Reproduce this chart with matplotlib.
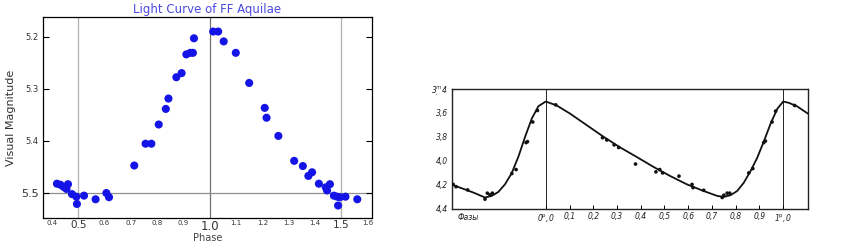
#!/usr/bin/env python3
"""
FF Aquilae light curves - two panels side by side
"""
import matplotlib
matplotlib.use("Agg")
import matplotlib.pyplot as plt

# left panel: phase / visual magnitude observations
ff_phase = [0.419, 0.432, 0.444, 0.455, 0.461, 0.476, 0.493, 0.495, 0.522, 0.566,
            0.607, 0.617, 0.713, 0.756, 0.778, 0.806, 0.833, 0.843, 0.873, 0.893,
            0.911, 0.926, 0.936, 0.940, 1.013, 1.032, 1.053, 1.099, 1.150, 1.209,
            1.216, 1.261, 1.321, 1.354, 1.375, 1.389, 1.415, 1.441, 1.446, 1.457,
            1.472, 1.484, 1.488, 1.495, 1.516, 1.561]
ff_mag = [5.483, 5.485, 5.489, 5.493, 5.484, 5.503, 5.508, 5.522, 5.506, 5.513,
          5.501, 5.509, 5.448, 5.406, 5.406, 5.369, 5.339, 5.319, 5.278, 5.270,
          5.234, 5.231, 5.231, 5.203, 5.190, 5.190, 5.209, 5.231, 5.289, 5.337,
          5.356, 5.391, 5.439, 5.449, 5.468, 5.461, 5.483, 5.490, 5.496, 5.484,
          5.506, 5.508, 5.525, 5.509, 5.508, 5.513]
ff_xticks = [0.4, 0.5, 0.6, 0.7, 0.8, 0.9, 1.0, 1.1, 1.2, 1.3, 1.4, 1.5, 1.6]
ff_yticks = [5.2, 5.3, 5.4, 5.5]

# right panel: scanned curve (drawn line) and its observed points
curve_phase = [-0.40, -0.361, -0.305, -0.256, -0.228, -0.200, -0.172, -0.143, -0.115,
               -0.087, -0.059, -0.031, 0.0, 0.046, 0.103, 0.173, 0.243, 0.314, 0.384,
               0.454, 0.525, 0.595, 0.665, 0.722, 0.750, 0.778, 0.806, 0.834, 0.862,
               0.890, 0.918, 0.947, 0.975, 1.0, 1.024, 1.059, 1.105]
curve_mag = [4.195, 4.224, 4.265, 4.306, 4.293, 4.260, 4.197, 4.101, 3.964,
             3.799, 3.648, 3.544, 3.505, 3.538, 3.607, 3.703, 3.799, 3.889, 3.969,
             4.051, 4.128, 4.197, 4.252, 4.293, 4.301, 4.287, 4.252, 4.183, 4.087,
             3.977, 3.840, 3.689, 3.566, 3.505, 3.516, 3.546, 3.607]
obs_phase = [-0.390, -0.378, -0.329, -0.256, -0.246, -0.235, -0.225, -0.143, -0.125,
             -0.083, -0.077, -0.055, -0.035, 0.042, 0.239, 0.257, 0.288, 0.307, 0.378,
             0.464, 0.480, 0.492, 0.561, 0.616, 0.620, 0.665, 0.743, 0.750, 0.764,
             0.775, 0.855, 0.872, 0.918, 0.925, 0.953, 0.968, 1.048]
obs_mag = [4.197, 4.216, 4.243, 4.320, 4.270, 4.284, 4.270, 4.106, 4.073,
           3.848, 3.840, 3.676, 3.580, 3.533, 3.807, 3.826, 3.867, 3.889, 4.027,
           4.092, 4.073, 4.101, 4.128, 4.197, 4.224, 4.246, 4.306, 4.287, 4.270,
           4.270, 4.101, 4.065, 3.848, 3.835, 3.676, 3.585, 3.538]
scan_xticks = [0.0, 0.1, 0.2, 0.3, 0.4, 0.5, 0.6, 0.7, 0.8, 0.9, 1.0]
scan_xlabels = ["0$^{\\rm p}$,0", "0,1", "0,2", "0,3", "0,4", "0,5", "0,6",
                "0,7", "0,8", "0,9", "1$^{\\rm p}$,0"]
scan_yticks = [3.4, 3.6, 3.8, 4.0, 4.2, 4.4]
scan_ylabels = ["3$^{m}_{,}$4", "3,6", "3,8", "4,0", "4,2", "4,4"]


def draw_ff_aquilae(ax):
    """왼쪽: matplotlib 스타일 광도곡선"""
    ax.axvline(0.5, color="#b0b0b0", lw=0.9, zorder=0)
    ax.axvline(1.5, color="#b0b0b0", lw=0.9, zorder=0)
    ax.axvline(1.0, color="#707070", lw=0.9, zorder=0)
    ax.axhline(5.5, color="#909090", lw=0.9, zorder=0)
    ax.scatter(ff_phase, ff_mag, s=34, color="#1414e6", edgecolors="none", zorder=3)

    ax.set_xlim(0.366, 1.617)
    ax.set_ylim(5.549, 5.162)
    ax.set_xticks(ff_xticks)
    ax.set_xticklabels([f"{t:.1f}" for t in ff_xticks])
    ax.set_yticks(ff_yticks)
    ax.set_yticklabels([f"{t:.1f}" for t in ff_yticks])
    for lab, t in zip(ax.get_xticklabels(), ff_xticks):
        big = abs(t * 2 - round(t * 2)) < 1e-6
        lab.set_fontsize(8.5 if t == 1.0 else (7.5 if big else 5))
        lab.set_color("#333333")
    for lab, t in zip(ax.get_yticklabels(), ff_yticks):
        lab.set_fontsize(8 if t == 5.5 else 6)
        lab.set_color("#333333")
    ax.tick_params(axis="x", length=0, pad=1.5)
    ax.tick_params(axis="y", direction="in", left=True, right=True, length=4, pad=3)

    ax.set_title("Light Curve of FF Aquilae", color="#4a4ae0", fontsize=8.5, pad=3)
    ax.set_xlabel("Phase", fontsize=7, color="#444444", labelpad=0)
    ax.set_ylabel("Visual Magnitude", fontsize=8, color="#333333", labelpad=4)
    for sp in ax.spines.values():
        sp.set_linewidth(0.9)


def draw_scanned_curve(ax):
    """오른쪽: 스캔된 도표"""
    ax.axvline(0.0, color="#222222", lw=0.7, zorder=1)
    ax.axvline(1.0, color="#222222", lw=0.7, zorder=1)
    ax.plot(curve_phase, curve_mag, color="#111111", lw=1.3, zorder=2)
    ax.scatter(obs_phase, obs_mag, s=7, color="#111111", edgecolors="none", zorder=3)

    ax.set_xlim(-0.395, 1.105)
    ax.set_ylim(4.40, 3.40)
    ax.set_xticks(scan_xticks)
    ax.set_xticklabels(scan_xlabels, fontsize=5.5, style="italic", color="#222222")
    ax.set_yticks(scan_yticks)
    ax.set_yticklabels(scan_ylabels, fontsize=5.5, style="italic", color="#222222")
    ax.tick_params(axis="x", direction="in", length=3, width=0.7, pad=2)
    ax.tick_params(axis="y", direction="in", length=0, pad=3)
    ax.text(-0.37, 4.47, "Фазы", fontsize=5.5, style="italic", color="#222222",
            va="center", ha="left")
    for sp in ax.spines.values():
        sp.set_linewidth(1.0)
        sp.set_color("#222222")


def main():
    fig = plt.figure(figsize=(8.48, 2.43), dpi=100)
    ax_left = fig.add_axes([0.0507, 0.103, 0.388, 0.827])
    ax_right = fig.add_axes([0.533, 0.141, 0.420, 0.493])

    draw_ff_aquilae(ax_left)
    draw_scanned_curve(ax_right)

    fig.savefig("out.png", dpi=100)
    plt.close(fig)


if __name__ == "__main__":
    main()
